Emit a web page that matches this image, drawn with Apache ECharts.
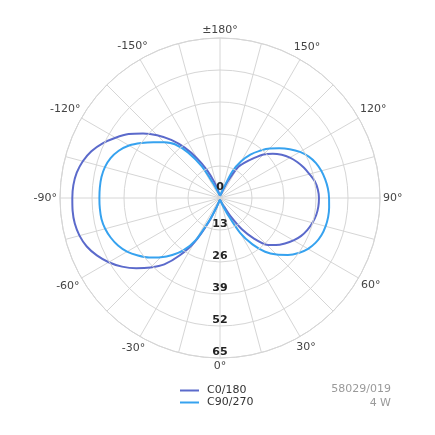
<!DOCTYPE html>
<html>
<head>
<meta charset="utf-8">
<script src="https://cdn.jsdelivr.net/npm/echarts@6/dist/echarts.min.js"></script>
<style>html,body{margin:0;padding:0;background:#fff;}#c{width:435px;height:435px;}</style>
</head>
<body>
<div id="c"></div>
<script>
// Angles in degrees (0 = down, +90 = right, -90 = left, ±180 = up)
const angles = [-180,-175,-170,-165,-160,-155,-150,-145,-140,-135,-130,-125,-120,-115,-110,-105,-100,-95,-90,-85,-80,-75,-70,-65,-60,-55,-50,-45,-40,-35,-30,-25,-20,-15,-10,-5,0,5,10,15,20,25,30,35,40,45,50,55,60,65,70,75,80,85,90,95,100,105,110,115,120,125,130,135,140,145,150,155,160,165,170,175,180];
const c0_180 = [1,1,1.5,3,7,12.5,18.6,25,30.8,36.1,40.8,45.3,49,52.6,55.6,57.7,59.1,59.8,60,60.1,59.9,59.1,57.6,55.2,52.2,48.6,44.4,39.9,35.2,28.4,20.8,10.5,3.5,1.5,1,0.8,0.8,0.8,1,1.5,2.5,4,8.5,15.5,21.5,26.8,29.7,32.2,34.5,36.4,37.8,38.9,39.7,40.1,40.2,39.9,39.1,37.6,36.2,34.6,32.8,30.6,28,25,21,17.5,14.2,7.5,3,1.8,1.2,1,1];
const c90_270 = [1,1,1.5,2,3,6.5,14.9,22.5,28.5,32,35.3,39,42.7,45.4,47.3,48.4,48.9,49,49,49,48.9,48.3,47.2,45.7,43.6,40.7,37.6,34,30.2,26,19.9,9.5,3.5,1.5,1,0.8,0.8,0.8,1,1.5,3,7.5,16.5,23,28.5,32.5,36,39,41.3,42.9,43.9,44.4,44.6,44.5,44.3,44,43.4,42.6,41.5,39.8,37.5,34.6,31.4,28.5,25,21.5,17.2,12,4.5,2,1.5,1,1];
const radiusTicks = [0,13,26,39,52,65];
const angleTicks = [0,30,60,90,120,150,180,-150,-120,-90,-60,-30];
const seriesNames = ['C0/180','C90/270'];
const infoLines = ['58029/019','4 W'];

const FONT = 'DejaVu Sans';
const LABEL_FONT = '11px "DejaVu Sans"';
const toAxisAngle = a => (a < 0 ? a + 360 : a);
const fmtAngle = a => (a === 180 ? '±180°' : a + '°');
function pairs(vals){ return vals.map((r,i)=>[r, toAxisAngle(angles[i])]); }
const rMax = radiusTicks[radiusTicks.length-1];

const chart = echarts.init(document.getElementById('c'), null, {renderer:'canvas'});
chart.setOption({
  animation:false,
  backgroundColor:'#fff',
  polar:{center:[220,198], radius:160},
  angleAxis:{
    type:'value', min:0, max:360, interval:15, startAngle:270, clockwise:false,
    axisLine:{show:true, lineStyle:{color:'#d3d3d3', width:1}},
    axisTick:{show:false},
    splitLine:{show:true, lineStyle:{color:'#d6d6d6', width:1}},
    axisLabel:{show:false}
  },
  radiusAxis:{
    type:'value', min:radiusTicks[0], max:rMax, interval:13,
    axisLine:{show:false}, axisTick:{show:false},
    splitLine:{show:true, lineStyle:{color:'#d6d6d6', width:1}},
    axisLabel:{
      margin:0, rotate:0, color:'#222', fontFamily:FONT, fontSize:11, fontWeight:'bold',
      align:'center', verticalAlign:'bottom', hideOverlap:false, showMinLabel:true, showMaxLabel:true,
      formatter:function(v){ return v === 0 ? '{z|0}' : String(v); },
      rich:{z:{fontFamily:FONT, fontSize:11, fontWeight:'bold', color:'#222', padding:[0,0,5,0]}}
    },
    z:10
  },
  legend:{
    orient:'vertical', left:175, top:380, itemGap:1,
    itemWidth:19, itemHeight:2, icon:'rect',
    textStyle:{fontFamily:FONT, fontSize:11, color:'#333', padding:[0,0,0,3]},
    data:seriesNames
  },
  series:[
    {name:seriesNames[0], type:'line', coordinateSystem:'polar', data:pairs(c0_180), symbol:'none', smooth:0.3,
     lineStyle:{color:'#5b6acb', width:2}, itemStyle:{color:'#5b6acb'}},
    {name:seriesNames[1], type:'line', coordinateSystem:'polar', data:pairs(c90_270), symbol:'none', smooth:0.3,
     lineStyle:{color:'#36a2ef', width:2}, itemStyle:{color:'#36a2ef'}}
  ]
});

// Angle tick labels: centred on their spoke, just outside the outer ring.
const ctx = document.createElement('canvas').getContext('2d');
ctx.font = LABEL_FONT;
const c = chart.convertToPixel({seriesIndex:0}, [0, 0]);
const edge = chart.convertToPixel({seriesIndex:0}, [rMax, 90]);
const Rpx = Math.hypot(edge[0]-c[0], edge[1]-c[1]);
const labelEls = angleTicks.map(a => {
  const txt = fmtAngle(a);
  const w = ctx.measureText(txt).width, h = 10;
  const rad = a * Math.PI / 180;
  const d = Rpx + 3 + Math.abs(Math.sin(rad)) * w / 2 + Math.abs(Math.cos(rad)) * h / 2;
  const p = chart.convertToPixel({seriesIndex:0}, [rMax * d / Rpx, toAxisAngle(a)]);
  return {type:'text', x:p[0], y:p[1], silent:true,
    style:{text:txt, fill:'#444', font:LABEL_FONT, textAlign:'center', textVerticalAlign:'middle', align:'center', verticalAlign:'middle'}};
});
chart.setOption({graphic: labelEls.concat([
  {type:'text', right:44, top:384, style:{text:infoLines[0], fill:'#9a9a9a', font:LABEL_FONT, textAlign:'right'}},
  {type:'text', right:44, top:398, style:{text:infoLines[1], fill:'#9a9a9a', font:LABEL_FONT, textAlign:'right'}}
])});
</script>
</body>
</html>
